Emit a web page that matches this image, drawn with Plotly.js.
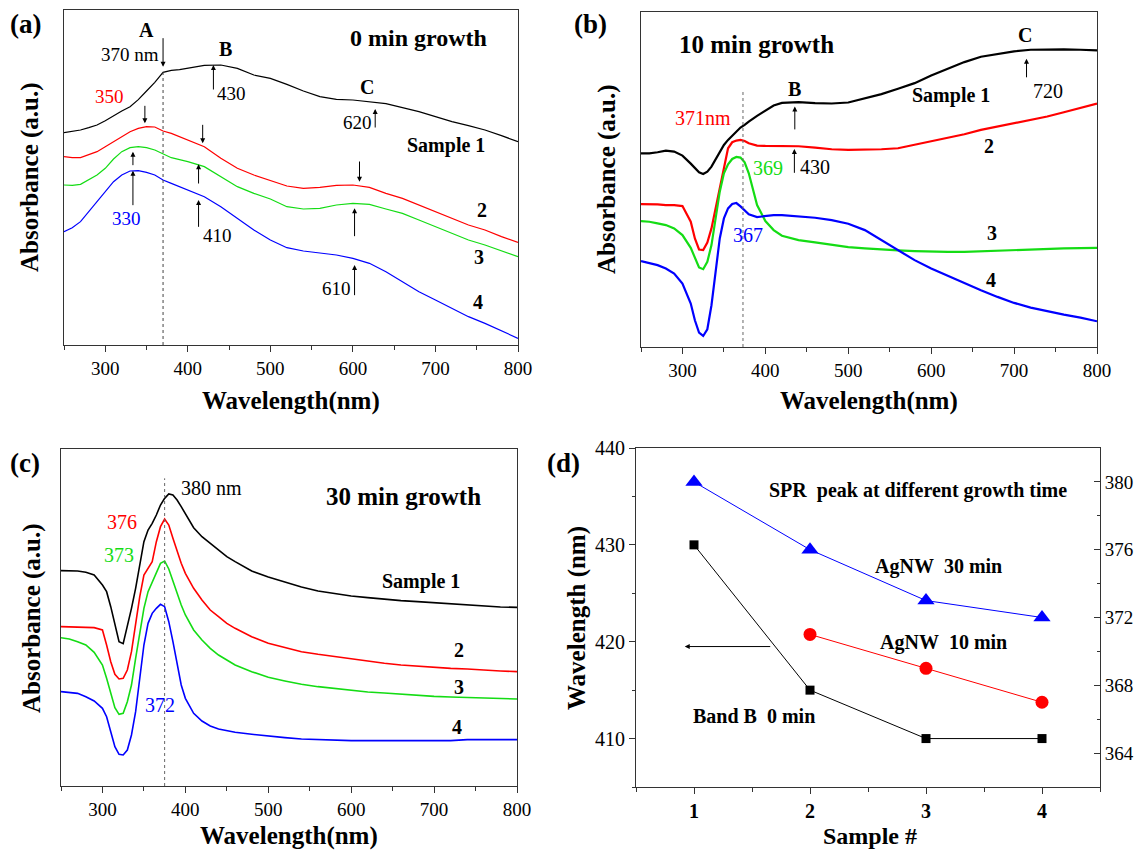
<!DOCTYPE html>
<html>
<head>
<meta charset="utf-8">
<script src="https://cdn.plot.ly/plotly-3.0.1.min.js"></script>
<style>html,body{margin:0;padding:0;background:#fff;}#chart{width:1140px;height:854px;}</style>
</head>
<body>
<div id="chart"></div>
<script>
// ---------- Panel (a): 0 min growth ----------
const wlA = [250,260,270,280,290,300,310,320,330,340,350,360,370,380,390,400,420,440,460,480,500,520,540,560,580,600,620,640,660,680,700,720,740,760,780,800];
const a1 = [0.637,0.640,0.645,0.652,0.660,0.673,0.688,0.702,0.715,0.736,0.762,0.788,0.818,0.824,0.826,0.830,0.839,0.840,0.830,0.810,0.800,0.782,0.762,0.745,0.737,0.735,0.730,0.724,0.712,0.700,0.685,0.670,0.658,0.645,0.628,0.610];
const a2 = [0.565,0.562,0.562,0.572,0.580,0.595,0.610,0.625,0.640,0.650,0.655,0.654,0.642,0.635,0.625,0.615,0.595,0.560,0.530,0.510,0.493,0.477,0.470,0.473,0.479,0.480,0.473,0.455,0.440,0.420,0.400,0.380,0.360,0.345,0.325,0.308];
const a3 = [0.480,0.479,0.482,0.495,0.510,0.530,0.558,0.580,0.592,0.595,0.592,0.585,0.573,0.562,0.556,0.550,0.535,0.505,0.475,0.455,0.438,0.415,0.408,0.410,0.420,0.425,0.422,0.408,0.395,0.375,0.355,0.335,0.315,0.300,0.282,0.265];
const a4 = [0.340,0.352,0.370,0.400,0.430,0.460,0.490,0.510,0.522,0.523,0.518,0.510,0.495,0.485,0.475,0.465,0.445,0.415,0.380,0.345,0.315,0.292,0.282,0.275,0.270,0.260,0.245,0.220,0.190,0.160,0.135,0.110,0.085,0.065,0.042,0.020];

// ---------- Panel (b): 10 min growth ----------
const wlB = [250,260,270,280,290,300,310,315,320,325,330,335,340,345,350,355,360,365,370,375,380,390,400,410,420,440,460,480,500,520,540,560,580,600,620,640,660,680,700,720,740,760,780,800];
const b1 = [0.580,0.580,0.583,0.588,0.585,0.573,0.549,0.535,0.523,0.518,0.525,0.540,0.562,0.585,0.605,0.620,0.633,0.645,0.657,0.665,0.675,0.692,0.707,0.723,0.731,0.733,0.730,0.729,0.732,0.745,0.757,0.773,0.790,0.813,0.833,0.853,0.869,0.878,0.885,0.890,0.891,0.891,0.890,0.888];
const b2 = [0.428,0.428,0.427,0.425,0.425,0.422,0.375,0.325,0.292,0.290,0.313,0.355,0.415,0.485,0.545,0.595,0.613,0.618,0.620,0.617,0.610,0.603,0.602,0.602,0.603,0.601,0.597,0.592,0.590,0.590,0.592,0.595,0.605,0.615,0.625,0.637,0.650,0.660,0.670,0.680,0.690,0.703,0.715,0.729];
const b3 = [0.377,0.375,0.370,0.365,0.355,0.335,0.297,0.265,0.238,0.233,0.255,0.305,0.385,0.465,0.520,0.547,0.563,0.569,0.567,0.553,0.520,0.425,0.377,0.350,0.333,0.320,0.313,0.305,0.299,0.295,0.291,0.289,0.287,0.285,0.285,0.285,0.287,0.289,0.291,0.293,0.294,0.295,0.296,0.297];
const b4 = [0.257,0.252,0.245,0.235,0.220,0.190,0.130,0.080,0.043,0.033,0.053,0.125,0.225,0.325,0.385,0.415,0.428,0.431,0.421,0.408,0.397,0.389,0.392,0.395,0.395,0.392,0.387,0.380,0.369,0.350,0.320,0.290,0.260,0.235,0.213,0.191,0.170,0.150,0.132,0.118,0.107,0.097,0.088,0.077];

// ---------- Panel (c): 30 min growth ----------
const wlC = [250,260,270,280,290,300,305,310,315,320,325,330,335,340,345,350,355,360,365,370,375,380,385,390,395,400,410,420,430,440,450,460,480,500,520,540,560,580,600,620,640,660,680,700,720,740,760,780,800];
const c1 = [0.646,0.646,0.645,0.641,0.633,0.603,0.583,0.538,0.483,0.433,0.427,0.478,0.533,0.593,0.663,0.733,0.768,0.788,0.813,0.843,0.863,0.876,0.873,0.858,0.838,0.818,0.775,0.748,0.728,0.708,0.688,0.673,0.645,0.627,0.611,0.597,0.585,0.577,0.570,0.565,0.560,0.556,0.553,0.550,0.547,0.542,0.539,0.537,0.536];
const c2 = [0.478,0.478,0.477,0.476,0.475,0.468,0.423,0.373,0.335,0.321,0.323,0.348,0.403,0.483,0.568,0.633,0.651,0.673,0.733,0.778,0.801,0.783,0.743,0.703,0.668,0.638,0.593,0.558,0.528,0.508,0.488,0.473,0.448,0.428,0.415,0.403,0.395,0.388,0.381,0.375,0.368,0.363,0.359,0.355,0.353,0.351,0.347,0.345,0.343];
const c3 = [0.445,0.441,0.433,0.423,0.401,0.363,0.323,0.278,0.235,0.215,0.218,0.253,0.303,0.383,0.463,0.533,0.583,0.610,0.638,0.668,0.675,0.651,0.615,0.578,0.543,0.513,0.468,0.438,0.413,0.393,0.378,0.363,0.343,0.326,0.315,0.305,0.298,0.292,0.286,0.282,0.279,0.275,0.272,0.269,0.267,0.265,0.263,0.262,0.261];
const c4 = [0.283,0.281,0.278,0.268,0.255,0.233,0.208,0.163,0.118,0.095,0.093,0.108,0.153,0.223,0.323,0.423,0.488,0.518,0.533,0.545,0.538,0.493,0.433,0.368,0.303,0.263,0.218,0.195,0.180,0.171,0.165,0.161,0.155,0.149,0.145,0.141,0.139,0.138,0.136,0.136,0.136,0.136,0.136,0.136,0.136,0.139,0.139,0.139,0.139];

// ---------- Panel (d): SPR peak positions ----------
const samples = [1,2,3,4];
const bandB0min = [430,415,410,410];
const samples10 = [2,3,4];
const agnw10min = [371,369,367];
const agnw30min = [380,376,373,372];

// reference wavelengths marked by dotted lines
const refA = 370, refB = 373, refC = 375;

const FONT = "'Liberation Serif', 'Times New Roman', serif";
const COL = {k:'#000000', r:'#ff0000', g:'#14dc14', b:'#0000ff'};
const AX = '#333333';

function line(x, y, color, w, xa, ya){
  return {x:x, y:y, type:'scatter', mode:'lines', line:{color:color, width:w}, xaxis:xa, yaxis:ya, hoverinfo:'skip'};
}

const data = [
  line(wlA,a1,COL.k,1.2,'x','y'), line(wlA,a2,COL.r,1.2,'x','y'), line(wlA,a3,COL.g,1.2,'x','y'), line(wlA,a4,COL.b,1.2,'x','y'),
  line(wlB,b1,COL.k,2.2,'x2','y2'), line(wlB,b2,COL.r,2.2,'x2','y2'), line(wlB,b3,COL.g,2.2,'x2','y2'), line(wlB,b4,COL.b,2.2,'x2','y2'),
  line(wlC,c1,COL.k,1.6,'x3','y3'), line(wlC,c2,COL.r,1.6,'x3','y3'), line(wlC,c3,COL.g,1.6,'x3','y3'), line(wlC,c4,COL.b,1.6,'x3','y3'),
  {x:samples, y:bandB0min, type:'scatter', mode:'lines+markers', xaxis:'x4', yaxis:'y4',
   line:{color:'#000', width:1}, marker:{symbol:'square', size:9, color:'#000'}},
  {x:samples10, y:agnw10min, type:'scatter', mode:'lines+markers', xaxis:'x4', yaxis:'y5',
   line:{color:'#ff0000', width:1}, marker:{symbol:'circle', size:13, color:'#ff0000'}},
  {x:samples, y:agnw30min, type:'scatter', mode:'lines+markers', xaxis:'x4', yaxis:'y5',
   line:{color:'#0000ff', width:1}, marker:{symbol:'triangle-up', size:15, color:'#0000ff'}}
];

function specX(domain, anchor){
  return {domain:domain, anchor:anchor, range:[250,800], tick0:0, dtick:100, ticks:'outside', ticklen:6, tickwidth:1,
    tickcolor:AX, showline:true, linecolor:AX, linewidth:1, mirror:true, showgrid:false, zeroline:false,
    tickfont:{size:19, family:FONT, color:'#000'},
    minor:{tick0:0, dtick:50, ticks:'outside', ticklen:4, tickcolor:AX, showgrid:false}};
}
function specY(domain, anchor, top){
  return {domain:domain, anchor:anchor, range:[0, top], showticklabels:false, ticks:'', showline:true,
    linecolor:AX, linewidth:1, mirror:true, showgrid:false, zeroline:false};
}

const W = 1140, H = 854;
const px = v => v / W, py = v => 1 - v / H;

const ann = [];
function txt(xr, yr, x, y, t, size, color, extra){
  ann.push(Object.assign({xref:xr, yref:yr, x:x, y:y, text:t, showarrow:false,
    xanchor:'center', yanchor:'middle',
    font:{family:FONT, size:size, color:color || '#000'}}, extra || {}));
}
function arr(xr, yr, x, y, ax, ay){
  ann.push({xref:xr, yref:yr, x:x, y:y, ax:ax, ay:ay, axref:xr, ayref:yr, text:'', showarrow:true,
    arrowhead:2, arrowsize:1, arrowwidth:1, arrowcolor:'#000', standoff:0, startstandoff:0});
}

// panel labels
txt('paper','paper', px(25), py(24), '<b>(a)</b>', 27);
txt('paper','paper', px(591), py(24), '<b>(b)</b>', 27);
txt('paper','paper', px(25), py(463), '<b>(c)</b>', 27);
txt('paper','paper', px(563), py(463), '<b>(d)</b>', 27);

// axis titles
txt('paper','paper', px(291), py(401), '<b>Wavelength(nm)</b>', 25);
txt('paper','paper', px(869), py(401), '<b>Wavelength(nm)</b>', 25);
txt('paper','paper', px(289), py(836), '<b>Wavelength(nm)</b>', 25);
txt('paper','paper', px(870), py(836), '<b>Sample #</b>', 24);
txt('paper','paper', px(30), py(177), '<b>Absorbance (a.u.)</b>', 25, null, {textangle:-90});
txt('paper','paper', px(607), py(179), '<b>Absorbance (a.u.)</b>', 25, null, {textangle:-90});
txt('paper','paper', px(32), py(618), '<b>Absorbance (a.u.)</b>', 25, null, {textangle:-90});
txt('paper','paper', px(577), py(618), '<b>Wavelength (nm)</b>', 25, null, {textangle:-90});

// (a) annotations
txt('x','y', 350, 0.945, '<b>A</b>', 20);
txt('x','y', 367, 0.872, '370 nm', 19, null, {xanchor:'right'});
arr('x','y', refA, 0.835, refA, 0.925);
txt('x','y', 446, 0.887, '<b>B</b>', 20);
arr('x','y', 431, 0.840, 431, 0.762);
txt('x','y', 433, 0.755, '430', 19, null, {xanchor:'left'});
txt('x','y', 617, 0.775, '<b>C</b>', 20);
arr('x','y', 627, 0.708, 627, 0.648);
txt('x','y', 625, 0.668, '620', 19, null, {xanchor:'right'});
txt('x','y', 305, 0.745, '350', 19, COL.r);
arr('x','y', 348, 0.665, 348, 0.722);
arr('x','y', 418, 0.605, 418, 0.665);
arr('x','y', 333.5, 0.580, 333.5, 0.535);
arr('x','y', 333.5, 0.523, 333.5, 0.415);
txt('x','y', 326, 0.380, '330', 19, COL.b);
arr('x','y', 413, 0.542, 413, 0.480);
arr('x','y', 413, 0.435, 413, 0.350);
txt('x','y', 436, 0.330, '410', 19);
arr('x','y', 608, 0.490, 608, 0.555);
arr('x','y', 602, 0.410, 602, 0.322);
arr('x','y', 602, 0.240, 602, 0.145);
txt('x','y', 600, 0.170, '610', 19, null, {xanchor:'right'});
txt('x','y', 680, 0.920, '<b>0 min growth</b>', 24);
txt('x','y', 713, 0.598, '<b>Sample 1</b>', 20);
txt('x','y', 756, 0.405, '<b>2</b>', 20);
txt('x','y', 753, 0.265, '<b>3</b>', 20);
txt('x','y', 752, 0.130, '<b>4</b>', 20);

// (b) annotations
txt('x2','y2', 294, 0.905, '<b>10 min growth</b>', 25, null, {xanchor:'left'});
txt('x2','y2', 435, 0.773, '<b>B</b>', 20);
arr('x2','y2', 435.5, 0.720, 435.5, 0.647);
txt('x2','y2', 325, 0.685, '371nm', 20, COL.r);
txt('x2','y2', 713, 0.935, '<b>C</b>', 20);
arr('x2','y2', 715, 0.863, 715, 0.803);
txt('x2','y2', 741, 0.767, '720', 20);
txt('x2','y2', 624, 0.753, '<b>Sample 1</b>', 20);
arr('x2','y2', 435, 0.593, 435, 0.517);
txt('x2','y2', 460, 0.540, '430', 20);
txt('x2','y2', 403, 0.535, '369', 20, COL.g);
txt('x2','y2', 378.5, 0.335, '367', 20, COL.b);
txt('x2','y2', 670, 0.603, '<b>2</b>', 20);
txt('x2','y2', 673, 0.340, '<b>3</b>', 20);
txt('x2','y2', 672, 0.200, '<b>4</b>', 20);

// (c) annotations
txt('x3','y3', 431.6, 0.893, '380 nm', 20);
txt('x3','y3', 323, 0.791, '376', 20, COL.r);
txt('x3','y3', 320, 0.693, '373', 20, COL.g);
txt('x3','y3', 369, 0.243, '372', 20, COL.b);
txt('x3','y3', 662.6, 0.868, '<b>30 min growth</b>', 25);
txt('x3','y3', 684.7, 0.615, '<b>Sample 1</b>', 20);
txt('x3','y3', 730, 0.408, '<b>2</b>', 20);
txt('x3','y3', 730, 0.296, '<b>3</b>', 20);
txt('x3','y3', 728, 0.176, '<b>4</b>', 20);

// (d) annotations
txt('x4','y4', 2.935, 435.6, '<b>SPR&nbsp; peak at different growth time</b>', 20);
txt('x4','y4', 3.11, 427.8, '<b>AgNW&nbsp; 30 min</b>', 20);
txt('x4','y4', 3.155, 419.95, '<b>AgNW&nbsp; 10 min</b>', 20);
txt('x4','y4', 1.517, 412.3, '<b>Band B&nbsp; 0 min</b>', 20);
arr('x4','y4', 0.92, 419.5, 1.67, 419.5);

const shapes = [
  {type:'line', xref:'x', yref:'y', x0:refA, x1:refA, y0:0, y1:0.820, line:{color:'#444', width:1, dash:'dot'}},
  {type:'line', xref:'x2', yref:'y2', x0:refB, x1:refB, y0:0, y1:0.765, line:{color:'#666', width:1, dash:'dot'}},
  {type:'line', xref:'x3', yref:'y3', x0:refC, x1:refC, y0:0, y1:0.923, line:{color:'#666', width:1, dash:'dot'}}
];

const layout = {
  width:W, height:H, margin:{l:0, r:0, t:0, b:0}, paper_bgcolor:'#fff', plot_bgcolor:'#fff', showlegend:false,
  font:{family:FONT, color:'#000'},
  xaxis: specX([px(64), px(518)], 'y'),
  yaxis: specY([py(345), py(10)], 'x', 1.005),
  xaxis2: specX([px(641), px(1097)], 'y2'),
  yaxis2: specY([py(347), py(12)], 'x2', 1.003),
  xaxis3: specX([px(61), px(517)], 'y3'),
  yaxis3: specY([py(786), py(449)], 'x3', 1.011),
  xaxis4: {domain:[px(636), px(1100)], anchor:'y4', range:[0.5,4.5], tickvals:samples, ticks:'outside', ticklen:6,
    tickcolor:AX, showline:true, linecolor:AX, mirror:true, showgrid:false, zeroline:false,
    tickfont:{size:20, family:FONT, color:'#000', weight:'bold'},
    minor:{tick0:0.5, dtick:0.5, ticks:'outside', ticklen:4, tickcolor:AX, showgrid:false}},
  yaxis4: {domain:[py(787), py(448)], anchor:'x4', range:[405,440], tick0:0, dtick:10, ticks:'outside', ticklen:6,
    tickcolor:AX, showline:true, linecolor:AX, showgrid:false, zeroline:false,
    tickfont:{size:20, family:FONT, color:'#000'},
    minor:{tick0:0, dtick:5, ticks:'outside', ticklen:3, tickcolor:AX, showgrid:false}},
  yaxis5: {overlaying:'y4', side:'right', anchor:'x4', range:[362,382], tick0:0, dtick:4, ticks:'inside', ticklen:6,
    tickcolor:AX, showline:true, linecolor:AX, showgrid:false, zeroline:false,
    tickfont:{size:19, family:FONT, color:'#000'},
    minor:{tick0:0, dtick:2, ticks:'inside', ticklen:3, tickcolor:AX, showgrid:false}},
  annotations: ann,
  shapes: shapes
};

Plotly.newPlot('chart', data, layout, {staticPlot:true, displayModeBar:false});
</script>
</body>
</html>
